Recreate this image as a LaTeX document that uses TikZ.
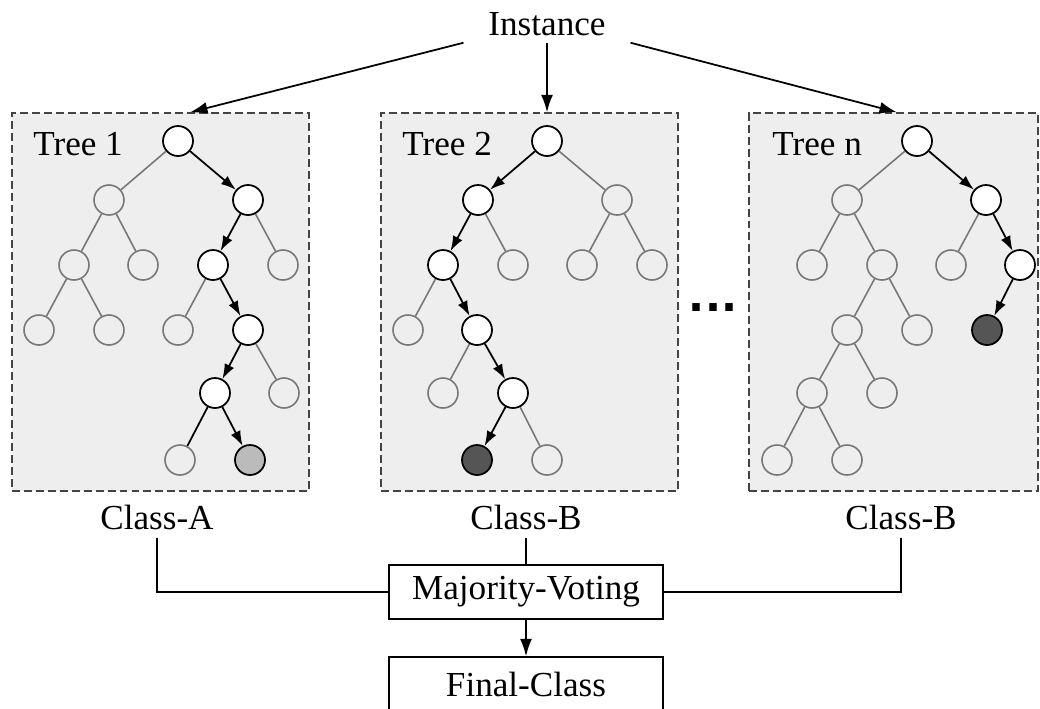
\documentclass[tikz,border=0pt]{standalone}
\usepackage{fontspec}
\setmainfont{Liberation Serif}
\newfontfamily\dotfont{DejaVu Sans}
\usetikzlibrary{arrows.meta}

\definecolor{boxfill}{HTML}{EEEEEE}
\definecolor{boxline}{HTML}{444444}
\definecolor{offgray}{HTML}{777777}
\definecolor{leafA}{HTML}{BBBBBB}
\definecolor{leafB}{HTML}{555555}

\begin{document}
\begin{tikzpicture}
[x=0.02cm, y=-0.02cm,
 every node/.style={font=\fontsize{20}{24}\selectfont},
 TreeBox/.style={rectangle,
    draw=boxline, fill=boxfill, line width=0.8pt,
    dash pattern=on 4.5pt off 2.3pt,
    minimum width=5.94cm, minimum height=7.56cm},
 TreeLabel/.style={anchor=base west, inner sep=0pt},
 OffNode/.style={circle,
    draw=offgray, line width=0.9pt,
    minimum size=0.6cm, inner sep=0pt},
 PathNode/.style={circle,
    draw=black, fill=white, line width=1pt,
    minimum size=0.6cm, inner sep=0pt},
 LeafA/.style={PathNode, fill=leafA},
 LeafB/.style={PathNode, fill=leafB},
 OffEdge/.style={draw=offgray, line width=0.9pt},
 PathEdge/.style={draw=black, line width=1pt,
    -{Latex[length=3mm,width=2.1mm]}},
 ClassLabel/.style={anchor=base, inner sep=5pt},
 VoteBox/.style={rectangle, draw=black, line width=0.8pt,
    minimum width=5.48cm, minimum height=1.08cm, inner sep=0pt},
 FlowArrow/.style={draw=black, line width=1pt,
    -{Latex[length=3.5mm,width=2.4mm]}}]

\useasboundingbox (0,0) rectangle (1040,708);

% tree boxes
\node[TreeBox] (t1) at (160.5,302) {};
\node[TreeBox] (t2) at (529.5,302) {};
\node[TreeBox, minimum width=5.78cm] (tn) at (893.5,302) {};
\node[TreeLabel] (l1) at (33,155) {Tree 1};
\node[TreeLabel] (l2) at (402,155) {Tree 2};
\node[TreeLabel] (ln) at (772,155) {Tree n};

% tree 1
\foreach \n/\x/\y/\s in {a0/178/141/PathNode, a1/109/200/OffNode, a2/248/200/PathNode,
    a3/74/265/OffNode, a4/143/265/OffNode, a5/213/265/PathNode, a6/283/265/OffNode,
    a7/39/330/OffNode, a8/109/330/OffNode, a9/178/330/OffNode, a10/248/330/PathNode,
    a11/215/393/PathNode, a12/284/393/OffNode, a13/180/460/OffNode, a14/250/460/LeafA}
    \node[\s] (\n) at (\x,\y) {};
\foreach \a/\b in {a0/a1, a1/a3, a1/a4, a3/a7, a3/a8, a2/a6, a5/a9, a10/a12}
    \draw[OffEdge] (\a) -- (\b);
\draw[line width=1pt] (a11) -- (a13);
\foreach \a/\b in {a0/a2, a2/a5, a5/a10, a10/a11, a11/a14}
    \draw[PathEdge] (\a) -- (\b);

% tree 2
\foreach \n/\x/\y/\s in {b0/547/141/PathNode, b1/478/200/PathNode, b2/617/200/OffNode,
    b3/443/265/PathNode, b4/513/265/OffNode, b5/582/265/OffNode, b6/652/265/OffNode,
    b7/408/330/OffNode, b8/477/330/PathNode,
    b9/443/393/OffNode, b10/513/393/PathNode, b11/477/460/LeafB, b12/547/460/OffNode}
    \node[\s] (\n) at (\x,\y) {};
\foreach \a/\b in {b0/b2, b1/b4, b2/b5, b2/b6, b3/b7, b8/b9, b10/b12}
    \draw[OffEdge] (\a) -- (\b);
\foreach \a/\b in {b0/b1, b1/b3, b3/b8, b8/b10, b10/b11}
    \draw[PathEdge] (\a) -- (\b);

% tree n
\foreach \n/\x/\y/\s in {c0/917/141/PathNode, c1/847/200/OffNode, c2/986/200/PathNode,
    c3/812/265/OffNode, c4/882/265/OffNode, c5/951/265/OffNode, c6/1020/265/PathNode,
    c7/847/330/OffNode, c8/917/330/OffNode, c9/987/330/LeafB,
    c10/812/393/OffNode, c11/882/393/OffNode, c12/777/460/OffNode, c13/847/460/OffNode}
    \node[\s] (\n) at (\x,\y) {};
\foreach \a/\b in {c0/c1, c1/c3, c1/c4, c2/c5, c4/c7, c4/c8, c7/c10, c7/c11, c10/c12, c10/c13}
    \draw[OffEdge] (\a) -- (\b);
\foreach \a/\b in {c0/c2, c2/c6, c6/c9}
    \draw[PathEdge] (\a) -- (\b);

\node[anchor=base, inner sep=0pt, font=\dotfont\fontsize{24}{24}\selectfont\bfseries]
    (dots) at (713,311) {...};

% instance and voting
\node[anchor=base, inner xsep=14pt, inner ysep=4pt] (inst) at (547,35) {Instance};
\draw[FlowArrow] (inst.south west) -- ([xshift=12*0.02cm]a0 |- t1.north);
\draw[FlowArrow] (inst.south) -- (b0 |- t2.north);
\draw[FlowArrow] (inst.south east) -- ([xshift=-20*0.02cm]c0 |- tn.north);

\node[ClassLabel] (class1) at (157,529) {Class-A};
\node[ClassLabel] (class2) at (526,529) {Class-B};
\node[ClassLabel] (classn) at (901,529) {Class-B};
\node[VoteBox] (vote) at (526,592) {Majority-Voting};
\node[VoteBox] (final) at (526,684) {Final-Class};

\draw[line width=1pt] (class1.south) |- (vote.west);
\draw[line width=1pt] (class2.south) -- (vote.north);
\draw[line width=1pt] (classn.south) |- (vote.east);
\draw[FlowArrow] (vote) -- (final);
\end{tikzpicture}
\end{document}
